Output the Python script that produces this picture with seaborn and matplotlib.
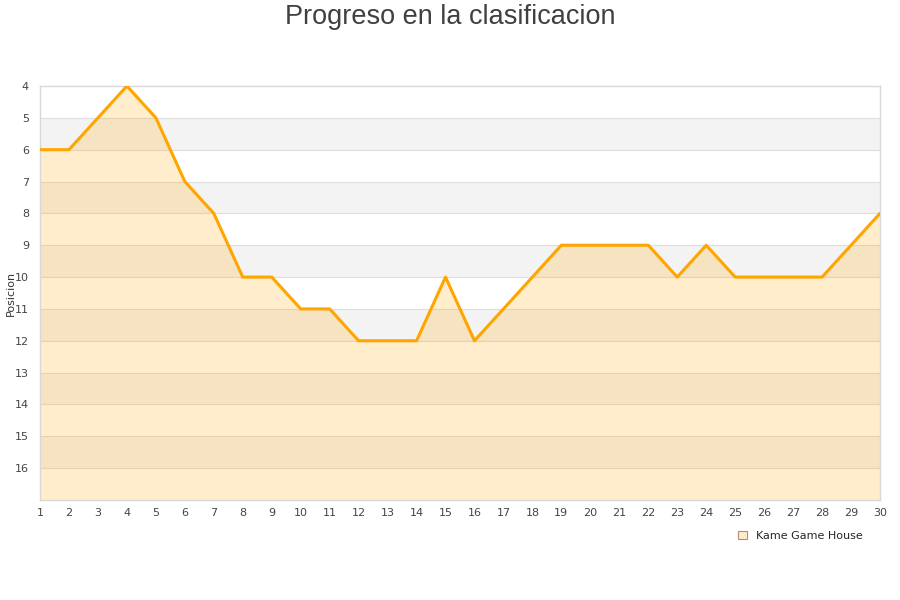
import matplotlib
matplotlib.use("Agg")
import matplotlib.pyplot as plt
import seaborn as sns
import pandas as pd
from matplotlib.patches import Patch

jornadas = list(range(1, 31))
posiciones = [6, 6, 5, 4, 5, 7, 8, 10, 10, 11, 11, 12, 12, 12, 10,
              12, 11, 10, 9, 9, 9, 9, 10, 9, 10, 10, 10, 10, 9, 8]
y_ticks = list(range(4, 17))
equipo = "Kame Game House"
titulo = "Progreso en la clasificacion"

df = pd.DataFrame({"Jornada": jornadas, "Posicion": posiciones})

sns.set_theme(style="white")
plt.rcParams['font.family'] = ['DejaVu Sans']

fig = plt.figure(figsize=(9, 6), dpi=100)
ax = fig.add_axes([40/900, 100/600, 840/900, 414/600])

y_min, y_max = 4, 17
for i, y0 in enumerate(range(y_min, y_max)):
    if i % 2 == 1:
        ax.axhspan(y0, y0 + 1, color="#f3f3f3", zorder=0, lw=0)
for y0 in range(y_min + 1, y_max):
    ax.axhline(y0, color="#dedede", lw=0.8, zorder=1)

ax.fill_between(df["Jornada"], df["Posicion"], y_max, color="#ffa500", alpha=0.2, lw=0, zorder=2)
sns.lineplot(data=df, x="Jornada", y="Posicion", ax=ax, color="#ffa500", lw=2.2, zorder=3)

ax.set_xlim(1, 30)
ax.set_ylim(y_max, y_min)
ax.set_xticks(jornadas)
ax.set_yticks(y_ticks)
ax.tick_params(axis="both", labelsize=8, colors="#444444", length=0, pad=6)
ax.tick_params(axis="y", pad=8)
ax.set_xlabel("")
ax.set_ylabel("Posicion", fontsize=8, color="#333333", labelpad=0)
ax.yaxis.set_label_coords(-24/840, 0.5)
for s in ax.spines.values():
    s.set_color("#d8d8d8")
    s.set_linewidth(1)

fig.text(0.5, 1 - 17/600, titulo, ha="center", va="center", fontsize=19.5, color="#404040",
         family=["Liberation Sans", "DejaVu Sans"])

handle = Patch(facecolor="#ffebc7", edgecolor="#b09070", lw=0.8)
fig.legend([handle], [equipo], loc="center", bbox_to_anchor=(800/900, 1 - 536/600),
           frameon=False, fontsize=8, handlelength=0.8, handleheight=0.8, handletextpad=0.8)

fig.savefig("out.png", dpi=100)
